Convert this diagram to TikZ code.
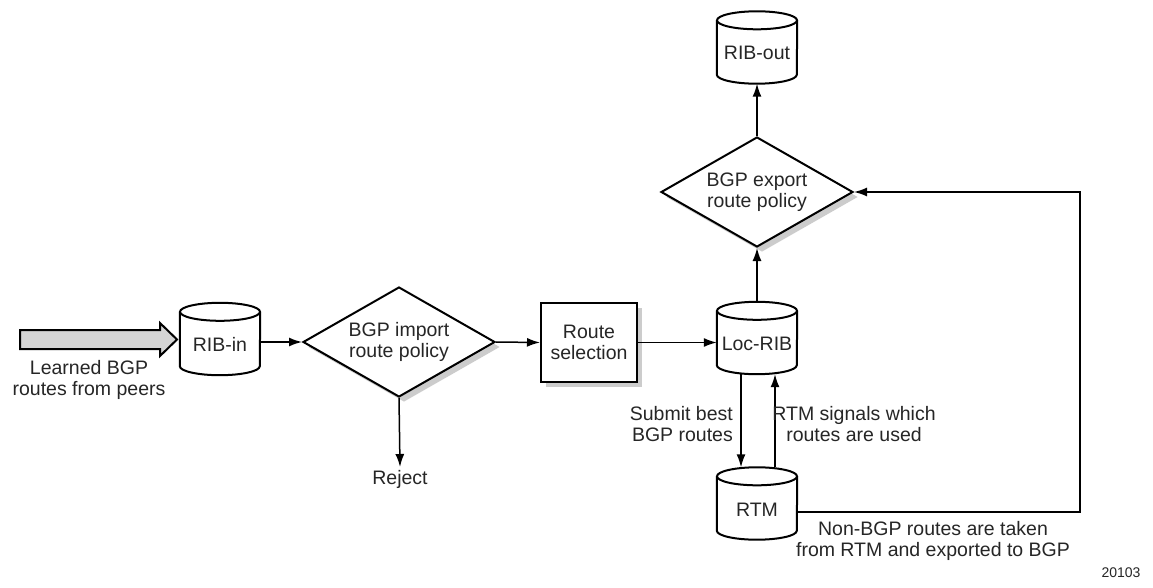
\documentclass[tikz,border=0pt]{standalone}
\usepackage{fontspec}
\setmainfont{Liberation Sans}
\usetikzlibrary{shapes.geometric,arrows.meta,calc,shadows}

\newcommand\cylout[1]{%
  \draw[shapeline] ($(#1.north west)+(0,9)$) -- ($(#1.south west)+(0,-9)$)
    arc[start angle=180,end angle=360,x radius=40pt,y radius=9pt]
    -- ($(#1.north east)+(0,9)$);
  \draw[shapeline] ($(#1.north)+(0,9)$) ellipse[x radius=40pt,y radius=9pt];
}

\tikzset{
  txt/.style={font=\fontsize{19.5}{21.5}\selectfont, text=black!85, align=center},
  shapeline/.style={line width=2pt, draw=black},
  shade/.style={drop shadow={shadow xshift=5pt, shadow yshift=-5pt, fill=black!20, opacity=1}},
  cyl/.style={txt, minimum width=80pt, minimum height=72pt, inner sep=0pt, text height=25pt, text depth=0pt},
  dia/.style={txt, diamond, shapeline, fill=white, aspect=1.75, inner sep=0pt,
              minimum width=192pt, minimum height=110pt, shade},
  box/.style={txt, rectangle, shapeline, fill=white, inner sep=0pt,
              minimum width=96pt, minimum height=79pt, shade},
  conn/.style={line width=1.5pt, -{Latex[length=13pt,width=9pt]}},
  bigarrow/.style={line width=2pt, draw=black, fill=black!17, line join=miter}
}

\begin{document}
\begin{tikzpicture}[x=1pt,y=-1pt]
\fill[white] (0,0) rectangle (1153,588);
\useasboundingbox (0,0) rectangle (1153,588);

% nodes
\node[cyl] (ribin) at (220,339) {RIB-in};
\node[dia] (imp) at (399,342) {BGP import\\route policy};
\node[box] (rs) at (589,342.5) {Route\\selection};
\node[cyl] (loc) at (757,338) {Loc-RIB};
\node[cyl] (rtm) at (757,503.5) {RTM};
\node[dia] (exp) at (757,192) {BGP export\\route policy};
\node[cyl] (ribout) at (757,47.5) {RIB-out};
\node[txt, anchor=north, inner sep=3pt] (reject) at (400,467) {Reject};

\cylout{ribin}
\cylout{loc}
\cylout{rtm}
\cylout{ribout}

% big input arrow
\draw[bigarrow] (20,330) -- (160,330) -- (160,323) -- (177,339.5) -- (160,356) -- (160,349) -- (20,349) -- cycle;
\node[txt] (lin) at (89,380) {Learned BGP\\routes from peers};

% connectors
\draw[conn] (ribin.east |- imp.west) -- (imp.west);
\draw[conn] (imp.east) -- (rs.west);
\draw[conn] (rs.east) -- (rs.east -| loc.west);
\draw[conn] (imp.south) -- (reject.north);
\draw[conn] (loc.north) -- (exp.south);
\draw[conn] (exp.north) -- (ribout.south);
\draw[conn] ([xshift=-16pt]loc.south) -- ([xshift=-16pt]rtm.north);
\draw[conn] ([xshift=18pt]rtm.north) -- ([xshift=18pt]loc.south);
\coordinate (bend) at (1080,512);
\draw[conn] (bend -| rtm.east) -- (bend) |- (exp.east);

% labels
\node[txt, anchor=east, align=right, inner sep=2pt] (lsub) at (735,424) {Submit best\\BGP routes};
\node[txt] (lrtm) at (854,424) {RTM signals which\\routes are used};
\node[txt] (lnon) at (933,541) {Non-BGP routes are taken\\from RTM and exported to BGP};
\node[font=\fontsize{14}{16}\selectfont, text=black!85] (fig) at (1121,573) {20103};
\end{tikzpicture}
\end{document}
